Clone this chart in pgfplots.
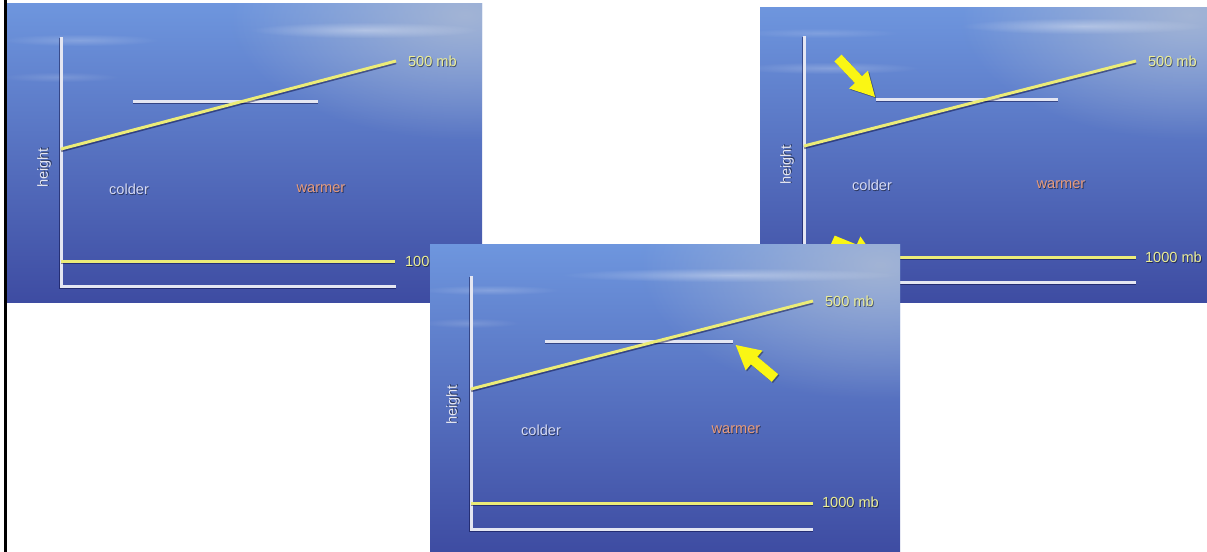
\documentclass[border=0pt]{standalone}
\usepackage{fontspec}
\setmainfont{Liberation Sans}
\usepackage{pgfplots}
\pgfplotsset{compat=1.18}
\usetikzlibrary{fadings}
\tikzfading[name=softspot, inner color=transparent!0, outer color=transparent!100]
\definecolor{bgtop}{RGB}{110,150,222}
\definecolor{bgmid}{RGB}{82,102,196}
\definecolor{bgbot}{RGB}{62,76,162}
\definecolor{bggray}{RGB}{172,186,212}
\definecolor{axwhite}{RGB}{228,230,242}
\definecolor{ylw}{RGB}{236,236,120}
\definecolor{lbl}{RGB}{236,238,150}
\definecolor{cold}{RGB}{214,218,244}
\definecolor{warm}{RGB}{232,156,124}
\definecolor{arrowy}{RGB}{250,246,20}
\pgfplotsset{
  panel/.style={scale only axis, axis lines=none, ticks=none, y dir=reverse, clip=true, anchor=north west},
  ax/.style={mark=none, line width=1.5pt, color=axwhite},
  yl/.style={mark=none, line width=1.5pt, color=ylw},
  shd/.style={mark=none, line width=1.8pt, color=black!80!blue, opacity=0.45, yshift=-0.7pt},
}
\newcommand{\txt}[4]{% x,y,color,text
  \node[text=black, opacity=0.5, font=\fontsize{7.3}{8}\selectfont, xshift=0.4pt, yshift=-0.5pt] at (axis cs:#1,#2) {#4};
  \node[text=#3, font=\fontsize{7.3}{8}\selectfont] at (axis cs:#1,#2) {#4};}
\newcommand{\wtxt}[4]{%
  \node[anchor=west, text=black, opacity=0.5, font=\fontsize{7.3}{8}\selectfont, xshift=0.4pt, yshift=-0.5pt] at (axis cs:#1,#2) {#4};
  \node[anchor=west, text=#3, font=\fontsize{7.3}{8}\selectfont] at (axis cs:#1,#2) {#4};}
\newcommand{\htxt}[2]{%
  \node[rotate=90, text=black, opacity=0.5, font=\fontsize{7.3}{8}\selectfont, xshift=0.4pt, yshift=-0.5pt] at (axis cs:#1,#2) {height};
  \node[rotate=90, text=axwhite, font=\fontsize{7.3}{8}\selectfont] at (axis cs:#1,#2) {height};}
\begin{document}
\begin{tikzpicture}
\useasboundingbox (0,0) rectangle (603.5pt,-276pt);
% base layer: black frame line
\begin{axis}[panel, at={(0pt,0pt)}, width=603.5pt, height=276pt, xmin=0, xmax=1207, ymin=0, ymax=552]
\addplot[mark=none, line width=1.1pt, color=black] coordinates {(5.5,0) (5.5,552)};
\end{axis}
% ---------------- Panel 1 ----------------
\begin{axis}[panel, at={(3.5pt,-1.5pt)}, width=237.5pt, height=149.5pt, xmin=7, xmax=482, ymin=3, ymax=302]
\fill[top color=bgtop, middle color=bgmid, bottom color=bgbot] (axis cs:7,3) rectangle (axis cs:482,302);
\fill[bggray, opacity=0.85, path fading=softspot] (axis cs:230,-110) rectangle (axis cs:700,140);
\fill[white, opacity=0.35, path fading=softspot] (axis cs:250,22) rectangle (axis cs:480,38);
\fill[white, opacity=0.2, path fading=softspot] (axis cs:0,34) rectangle (axis cs:160,46);
\fill[white, opacity=0.15, path fading=softspot] (axis cs:0,72) rectangle (axis cs:120,82);
\addplot[shd] coordinates {(61,37) (61,286) (396,286)};
\addplot[ax] coordinates {(61,37) (61,286) (396,286)};
\addplot[shd] coordinates {(61,261) (395,261)};
\addplot[yl] coordinates {(61,261) (395,261)};
\addplot[shd] coordinates {(133,101) (318,101)};
\addplot[ax] coordinates {(133,101) (318,101)};
\addplot[shd] coordinates {(61,149) (396,61)};
\addplot[yl] coordinates {(61,149) (396,61)};
\wtxt{401}{61}{lbl}{500 mb}
\wtxt{398}{261}{lbl}{1000 mb}
\htxt{44}{168}
\txt{129}{189}{cold}{colder}
\txt{321}{189}{warm}{warmer}
\end{axis}
% ---------------- Panel 2 ----------------
\begin{axis}[panel, at={(380pt,-3.5pt)}, width=223.5pt, height=147.5pt, xmin=760, xmax=1207, ymin=7, ymax=302]
\fill[top color=bgtop, middle color=bgmid, bottom color=bgbot] (axis cs:760,7) rectangle (axis cs:1207,302);
\fill[bggray, opacity=0.85, path fading=softspot] (axis cs:960,-110) rectangle (axis cs:1420,140);
\fill[white, opacity=0.35, path fading=softspot] (axis cs:960,18) rectangle (axis cs:1207,34);
\fill[white, opacity=0.22, path fading=softspot] (axis cs:740,62) rectangle (axis cs:920,74);
\fill[white, opacity=0.15, path fading=softspot] (axis cs:740,28) rectangle (axis cs:900,38);
\addplot[shd] coordinates {(804,36) (804,282) (1136,282)};
\addplot[ax] coordinates {(804,36) (804,282) (1136,282)};
\addplot[shd] coordinates {(804,257) (1136,257)};
\addplot[yl] coordinates {(804,257) (1136,257)};
\addplot[shd] coordinates {(876,99) (1058,99)};
\addplot[ax] coordinates {(876,99) (1058,99)};
\addplot[shd] coordinates {(804,146) (1136,61)};
\addplot[yl] coordinates {(804,146) (1136,61)};
\addplot[fill=black, opacity=0.35, draw=none, xshift=0.6pt, yshift=-0.6pt] coordinates {(875,97) (849.1,88.5) (854.9,83.0) (834.4,61.4) (841.6,54.6) (862.1,76.2) (867.9,70.7)} -- cycle;
\addplot[fill=arrowy, draw=none] coordinates {(875,97) (849.1,88.5) (854.9,83.0) (834.4,61.4) (841.6,54.6) (862.1,76.2) (867.9,70.7)} -- cycle;
\addplot[fill=arrowy, draw=none] coordinates {(875,258) (851.6,255.7) (853.8,249.6) (831.1,243.8) (834.7,235.6) (856.8,244.6) (860.4,236.4)} -- cycle;
\wtxt{1141}{61}{lbl}{500 mb}
\wtxt{1138}{257}{lbl}{1000 mb}
\htxt{787}{165}
\txt{872}{185}{cold}{colder}
\txt{1061}{185}{warm}{warmer}
\end{axis}
% ---------------- Panel 3 ----------------
\begin{axis}[panel, at={(215pt,-122pt)}, width=235pt, height=154pt, xmin=430, xmax=900, ymin=244, ymax=552]
\fill[top color=bgtop, middle color=bgmid, bottom color=bgbot] (axis cs:430,244) rectangle (axis cs:900,552);
\fill[bggray, opacity=0.85, path fading=softspot] (axis cs:640,130) rectangle (axis cs:1120,400);
\fill[white, opacity=0.35, path fading=softspot] (axis cs:560,268) rectangle (axis cs:900,282);
\fill[white, opacity=0.2, path fading=softspot] (axis cs:420,285) rectangle (axis cs:560,295);
\fill[white, opacity=0.15, path fading=softspot] (axis cs:420,318) rectangle (axis cs:520,328);
\addplot[shd] coordinates {(471,276) (471,529) (813,529)};
\addplot[ax] coordinates {(471,276) (471,529) (813,529)};
\addplot[shd] coordinates {(471,503) (813,503)};
\addplot[yl] coordinates {(471,503) (813,503)};
\addplot[shd] coordinates {(545,341) (733,341)};
\addplot[ax] coordinates {(545,341) (733,341)};
\addplot[shd] coordinates {(471,389) (813,301)};
\addplot[yl] coordinates {(471,389) (813,301)};
\addplot[fill=black, opacity=0.35, draw=none, xshift=0.6pt, yshift=-0.6pt] coordinates {(735.7,345) (762.5,350.6) (757.3,356.7) (778.2,374.2) (771.8,381.8) (750.9,364.3) (745.7,370.4)} -- cycle;
\addplot[fill=arrowy, draw=none] coordinates {(735.7,345) (762.5,350.6) (757.3,356.7) (778.2,374.2) (771.8,381.8) (750.9,364.3) (745.7,370.4)} -- cycle;
\wtxt{818}{301}{lbl}{500 mb}
\wtxt{815}{502}{lbl}{1000 mb}
\htxt{453}{405}
\txt{541}{430}{cold}{colder}
\txt{736}{430}{warm}{warmer}
\end{axis}
\end{tikzpicture}
\end{document}
